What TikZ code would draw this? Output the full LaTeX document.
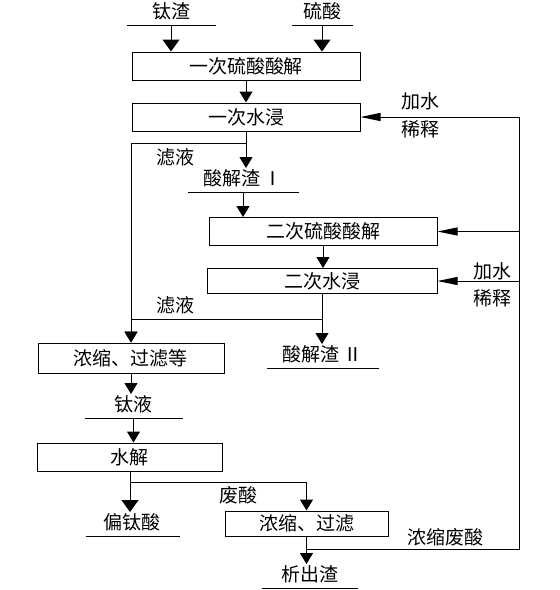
\documentclass[tikz,border=0pt]{standalone}
\usepackage{fontspec}
\setmainfont{Noto Sans CJK SC}
\usetikzlibrary{arrows.meta}

\begin{document}
\begin{tikzpicture}[x=0.5pt,y=-0.5pt,line width=0.5pt,font=\fontsize{9.5pt}{11pt}\selectfont,
 box/.style={draw,minimum width=#1,minimum height=14pt,inner sep=0pt},
 prod/.style={minimum width=#1,text height=7.5pt,text depth=2pt,inner xsep=0pt,inner ysep=1pt,anchor=south},
 arr/.style={-{Triangle[length=5.5pt,width=6.5pt]}},
 bigarr/.style={-{Triangle[length=6pt,width=8.5pt]}},
 harr/.style={-{Triangle[length=10pt,width=4pt]}}]
\useasboundingbox (0,0) rectangle (560,590);
\node[box=114pt] (b1) at (246,66) {一次硫酸酸解};
\node[box=114pt] (b2) at (246,117) {一次水浸};
\node[box=114pt] (b3) at (323,231.5) {二次硫酸酸解};
\node[box=115pt,minimum height=12.5pt] (b4) at (322,281) {二次水浸};
\node[box=93pt,minimum height=15pt] (b5) at (131,358) {浓缩、过滤等};
\node[box=92.5pt] (b6) at (130,457) {水解};
\node[box=81.5pt,minimum height=12.5pt] (b7) at (306.5,523.5) {浓缩、过滤};
\node[prod=44pt] (t1) at (171,25) {钛渣};
\node[prod=30pt] (t2) at (322,25) {硫酸};
\node[prod=55pt] (r1) at (243,192) {酸解渣\,Ⅰ};
\node[prod=55.5pt] (r2) at (322.5,368) {酸解渣\,Ⅱ};
\node[prod=48.5pt] (l1) at (133.5,418) {钛液};
\node[prod=46.5pt] (p1) at (132.5,536) {偏钛酸};
\node[prod=47.5pt] (p2) at (309.5,588) {析出渣};
\node (w1) at (175,157) {滤液};
\node (w2) at (175,305) {滤液};
\node (a1) at (420,101) {加水};
\node (d1) at (420,129) {稀释};
\node (a2) at (492,271) {加水};
\node (d2) at (492,298) {稀释};
\node (fs) at (238,495) {废酸};
\node (nf) at (445,537) {浓缩废酸};
\foreach \n in {t1,t2,r1,r2,l1,p1,p2} \draw (\n.south west) -- (\n.south east);
\draw[bigarr] (t1.south) -- (t1.south |- b1.north);
\draw[bigarr] (t2.south) -- (t2.south |- b1.north);
\draw[arr] (b1.south) -- (b2.north);
\draw[arr] (b2.south) -- (b2.south |- r1.north);
\coordinate (f1) at (246,143);
\draw[arr] (f1) -| (b5.north);
\draw[arr] (r1.south) -- (r1.south |- b3.north);
\draw[arr] (b3.south) -- (b3.south |- b4.north);
\draw[arr] (b4.south) -- (b4.south |- r2.north);
\coordinate (f2) at (322,319);
\draw[arr] (f2) -| (b5.north);
\draw[arr] (b5.south) -- (b5.south |- l1.north);
\draw[arr] (l1.south) -- (l1.south |- b6.north);
\draw[bigarr] (b6.south) -- (b6.south |- p1.north);
\coordinate (f3) at (130,482);
\draw[arr] (f3) -| (b7.north);
\draw[arr] (b7.south) -- (b7.south |- p2.north);
\coordinate (f4) at (306.5,549);
\coordinate (rb) at (519,549);
\coordinate (rt) at (519,117);
\draw[harr] (f4) -- (rb) -- (rt) -- (b2.east);
\draw[harr] (rt |- b3.east) -- (b3.east);
\draw[harr] (rt |- b4.east) -- (b4.east);
\end{tikzpicture}
\end{document}
